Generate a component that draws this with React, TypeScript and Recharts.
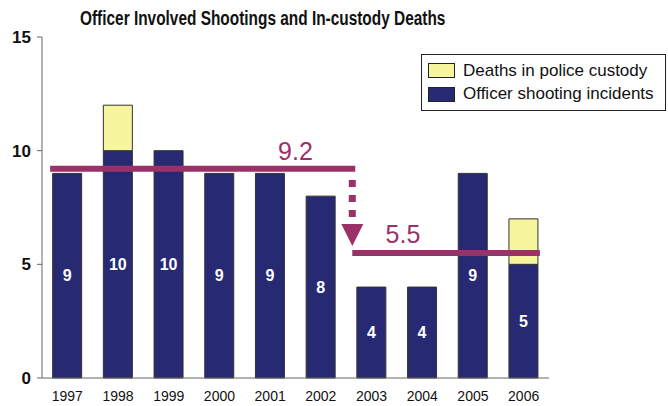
import {
    BarChart,
    Bar,
    XAxis,
    YAxis,
    LabelList,
    Legend,
    ReferenceLine,
    ReferenceDot,
} from "recharts";

const years = ["1997", "1998", "1999", "2000", "2001", "2002", "2003", "2004", "2005", "2006"];
const shootings = [9, 10, 10, 9, 9, 8, 4, 4, 9, 5];
const custodyDeaths = [0, 2, 0, 0, 0, 0, 0, 0, 0, 2];
const yTicks = [0, 5, 10, 15];
const avgBefore = 9.2;
const avgAfter = 5.5;

const NAVY = "#272a72";
const YELLOW = "#f7f59d";
const MAGENTA = "#9c3068";
const FONT = "'Liberation Sans', Arial, sans-serif";

const data = years.map((year, i) => ({
    year,
    shootings: shootings[i],
    custody: custodyDeaths[i],
}));

const legendItems = [
    { label: "Deaths in police custody", color: YELLOW },
    { label: "Officer shooting incidents", color: NAVY },
];

const ChartLegend = () => (
    <div
        style={{
            border: "1px solid #222",
            background: "#fff",
            padding: "4px 6px",
            fontFamily: FONT,
            fontSize: 17,
            color: "#111",
            boxSizing: "border-box",
            width: 245,
            height: 57,
        }}
    >
        {legendItems.map((item) => (
            <div key={item.label} style={{ display: "flex", alignItems: "center", height: 23.5 }}>
                <span
                    style={{
                        display: "inline-block",
                        width: 25,
                        height: 13,
                        background: item.color,
                        border: "1px solid #222",
                        marginRight: 8,
                    }}
                />
                {item.label}
            </div>
        ))}
    </div>
);

const Triangle = (props: any) => {
    const { cx, cy } = props;
    return (
        <polygon
            points={`${cx - 11},${cy - 11} ${cx + 11},${cy - 11} ${cx},${cy + 11}`}
            fill={MAGENTA}
        />
    );
};

const App = () => {
    return (
        <div style={{ position: "absolute", left: 0, top: 0, width: 668, height: 406, background: "#fff" }}>
            <div
                style={{
                    position: "absolute",
                    left: 80,
                    top: 7,
                    whiteSpace: "nowrap",
                    fontFamily: FONT,
                    fontWeight: "bold",
                    fontSize: 20,
                    color: "#111",
                    transform: "scaleX(0.77)",
                    transformOrigin: "left top",
                }}
            >
                Officer Involved Shootings and In-custody Deaths
            </div>
            <BarChart
                width={668}
                height={406}
                data={data}
                margin={{ top: 37, right: 119, bottom: 0, left: 0 }}
                barCategoryGap="21%"
                style={{ fontFamily: FONT }}
            >
                <XAxis
                    dataKey="year"
                    height={28}
                    tickLine={false}
                    tickSize={8}
                    tickMargin={5}
                    axisLine={{ stroke: "#666" }}
                    tick={{ fill: "#111", fontSize: 14 }}
                    interval={0}
                />
                <XAxis
                    xAxisId="num"
                    type="number"
                    dataKey={() => 0}
                    domain={[0, 10]}
                    allowDataOverflow
                    hide
                />
                <YAxis
                    width={42}
                    domain={[0, 15]}
                    ticks={yTicks}
                    tickSize={5}
                    tickMargin={6}
                    axisLine={{ stroke: "#666" }}
                    tickLine={{ stroke: "#666" }}
                    tick={{ fill: "#111", fontSize: 17, fontWeight: "bold" }}
                />
                <Legend
                    layout="vertical"
                    align="center"
                    verticalAlign="middle"
                    content={() => <ChartLegend />}
                    wrapperStyle={{ position: "absolute", left: 421, top: 54, width: 245 }}
                />
                <Bar dataKey="shootings" stackId="a" fill={NAVY} stroke="#333" strokeWidth={1} isAnimationActive={false}>
                    <LabelList
                        dataKey="shootings"
                        position="center"
                        fill="#fff"
                        style={{ fontSize: 16, fontWeight: "bold" }}
                    />
                </Bar>
                <Bar dataKey="custody" stackId="a" fill={YELLOW} stroke="#333" strokeWidth={1} isAnimationActive={false} />
                <ReferenceLine
                    xAxisId="num"
                    segment={[{ x: 0.22, y: avgBefore }, { x: 6.12, y: avgBefore }]}
                    stroke={MAGENTA}
                    strokeWidth={6}
                    strokeLinecap="square"
                />
                <ReferenceLine
                    xAxisId="num"
                    segment={[{ x: 6.12, y: 8.71 }, { x: 6.12, y: 6.77 }]}
                    stroke={MAGENTA}
                    strokeWidth={7}
                    strokeDasharray="7 8"
                />
                <ReferenceLine
                    xAxisId="num"
                    segment={[{ x: 6.12, y: avgAfter }, { x: 9.82, y: avgAfter }]}
                    stroke={MAGENTA}
                    strokeWidth={6}
                />
                <ReferenceDot xAxisId="num" x={6.12} y={6.29} shape={Triangle} />
                <ReferenceDot
                    xAxisId="num"
                    x={5.0}
                    y={avgBefore}
                    r={0}
                    stroke="none"
                    fill="none"
                    label={{ value: String(avgBefore), position: "top", offset: 9, fill: MAGENTA, fontSize: 25 }}
                />
                <ReferenceDot
                    xAxisId="num"
                    x={7.12}
                    y={avgAfter}
                    r={0}
                    stroke="none"
                    fill="none"
                    label={{ value: String(avgAfter), position: "top", offset: 10, fill: MAGENTA, fontSize: 25 }}
                />
            </BarChart>
        </div>
    );
};

export default App;
